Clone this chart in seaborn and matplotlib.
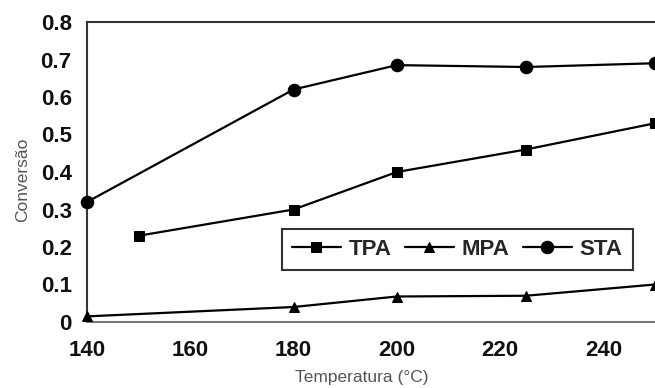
import matplotlib
matplotlib.use("Agg")
import matplotlib.pyplot as plt
import seaborn as sns
import pandas as pd

tpa_temp = [150, 180, 200, 225, 250]
tpa_conv = [0.23, 0.30, 0.40, 0.46, 0.53]
mpa_temp = [140, 180, 200, 225, 250]
mpa_conv = [0.015, 0.04, 0.068, 0.07, 0.10]
sta_temp = [140, 180, 200, 225, 250]
sta_conv = [0.32, 0.62, 0.685, 0.68, 0.69]

series = {
    "TPA": (tpa_temp, tpa_conv, "s", 7),
    "MPA": (mpa_temp, mpa_conv, "^", 7),
    "STA": (sta_temp, sta_conv, "o", 9),
}

sns.set_style("white")
plt.rcParams["font.family"] = ["Liberation Sans", "DejaVu Sans"]

fig = plt.figure(figsize=(6.55, 3.88), dpi=100)
ax = fig.add_axes([87 / 655, 66 / 388, 568 / 655, 300 / 388])

for name, (xs, ys, mk, ms) in series.items():
    df = pd.DataFrame({"Temperatura": xs, "Conversão": ys})
    sns.lineplot(data=df, x="Temperatura", y="Conversão", ax=ax, color="black",
                 marker=mk, markersize=ms, markeredgecolor="black", linewidth=1.6,
                 label=name, clip_on=False, zorder=3)

ax.set_xlim(140, 250)
ax.set_ylim(0, 0.8)
ax.set_xticks([140, 160, 180, 200, 220, 240])
ax.set_yticks([0, 0.1, 0.2, 0.3, 0.4, 0.5, 0.6, 0.7, 0.8])
ax.set_yticklabels(["0", "0.1", "0.2", "0.3", "0.4", "0.5", "0.6", "0.7", "0.8"])
ax.tick_params(axis="both", which="major", labelsize=16, direction="out", length=5,
               width=1.5, color="#333333")
ax.tick_params(axis="x", pad=8)
ax.tick_params(axis="y", pad=6)
for lab in ax.get_xticklabels() + ax.get_yticklabels():
    lab.set_fontweight("bold")
    lab.set_color("#111111")

for side in ["left", "top", "bottom"]:
    ax.spines[side].set_visible(True)
    ax.spines[side].set_color("#333333")
    ax.spines[side].set_linewidth(1.5)
ax.spines["right"].set_visible(False)
ax.spines["bottom"].set_color("#777777")

ax.set_xlabel("Temperatura (°C)", fontsize=12.5, color="#555555")
ax.set_ylabel("Conversão", fontsize=12.5, color="#555555")
ax.xaxis.set_label_coords(0.483, -0.16)
ax.yaxis.set_label_coords(-0.1, 0.473)

leg = ax.legend(loc="upper left", bbox_to_anchor=((282 - 87) / 568, (388 - 229 - 66) / 300),
                ncol=3, frameon=True, fancybox=False, edgecolor="black",
                prop={"weight": "bold", "size": 16}, handlelength=2.2, columnspacing=0.6,
                handletextpad=0.35, borderpad=0.45, borderaxespad=0)
leg.get_frame().set_linewidth(1.5)

fig.savefig("out.png", dpi=100)
